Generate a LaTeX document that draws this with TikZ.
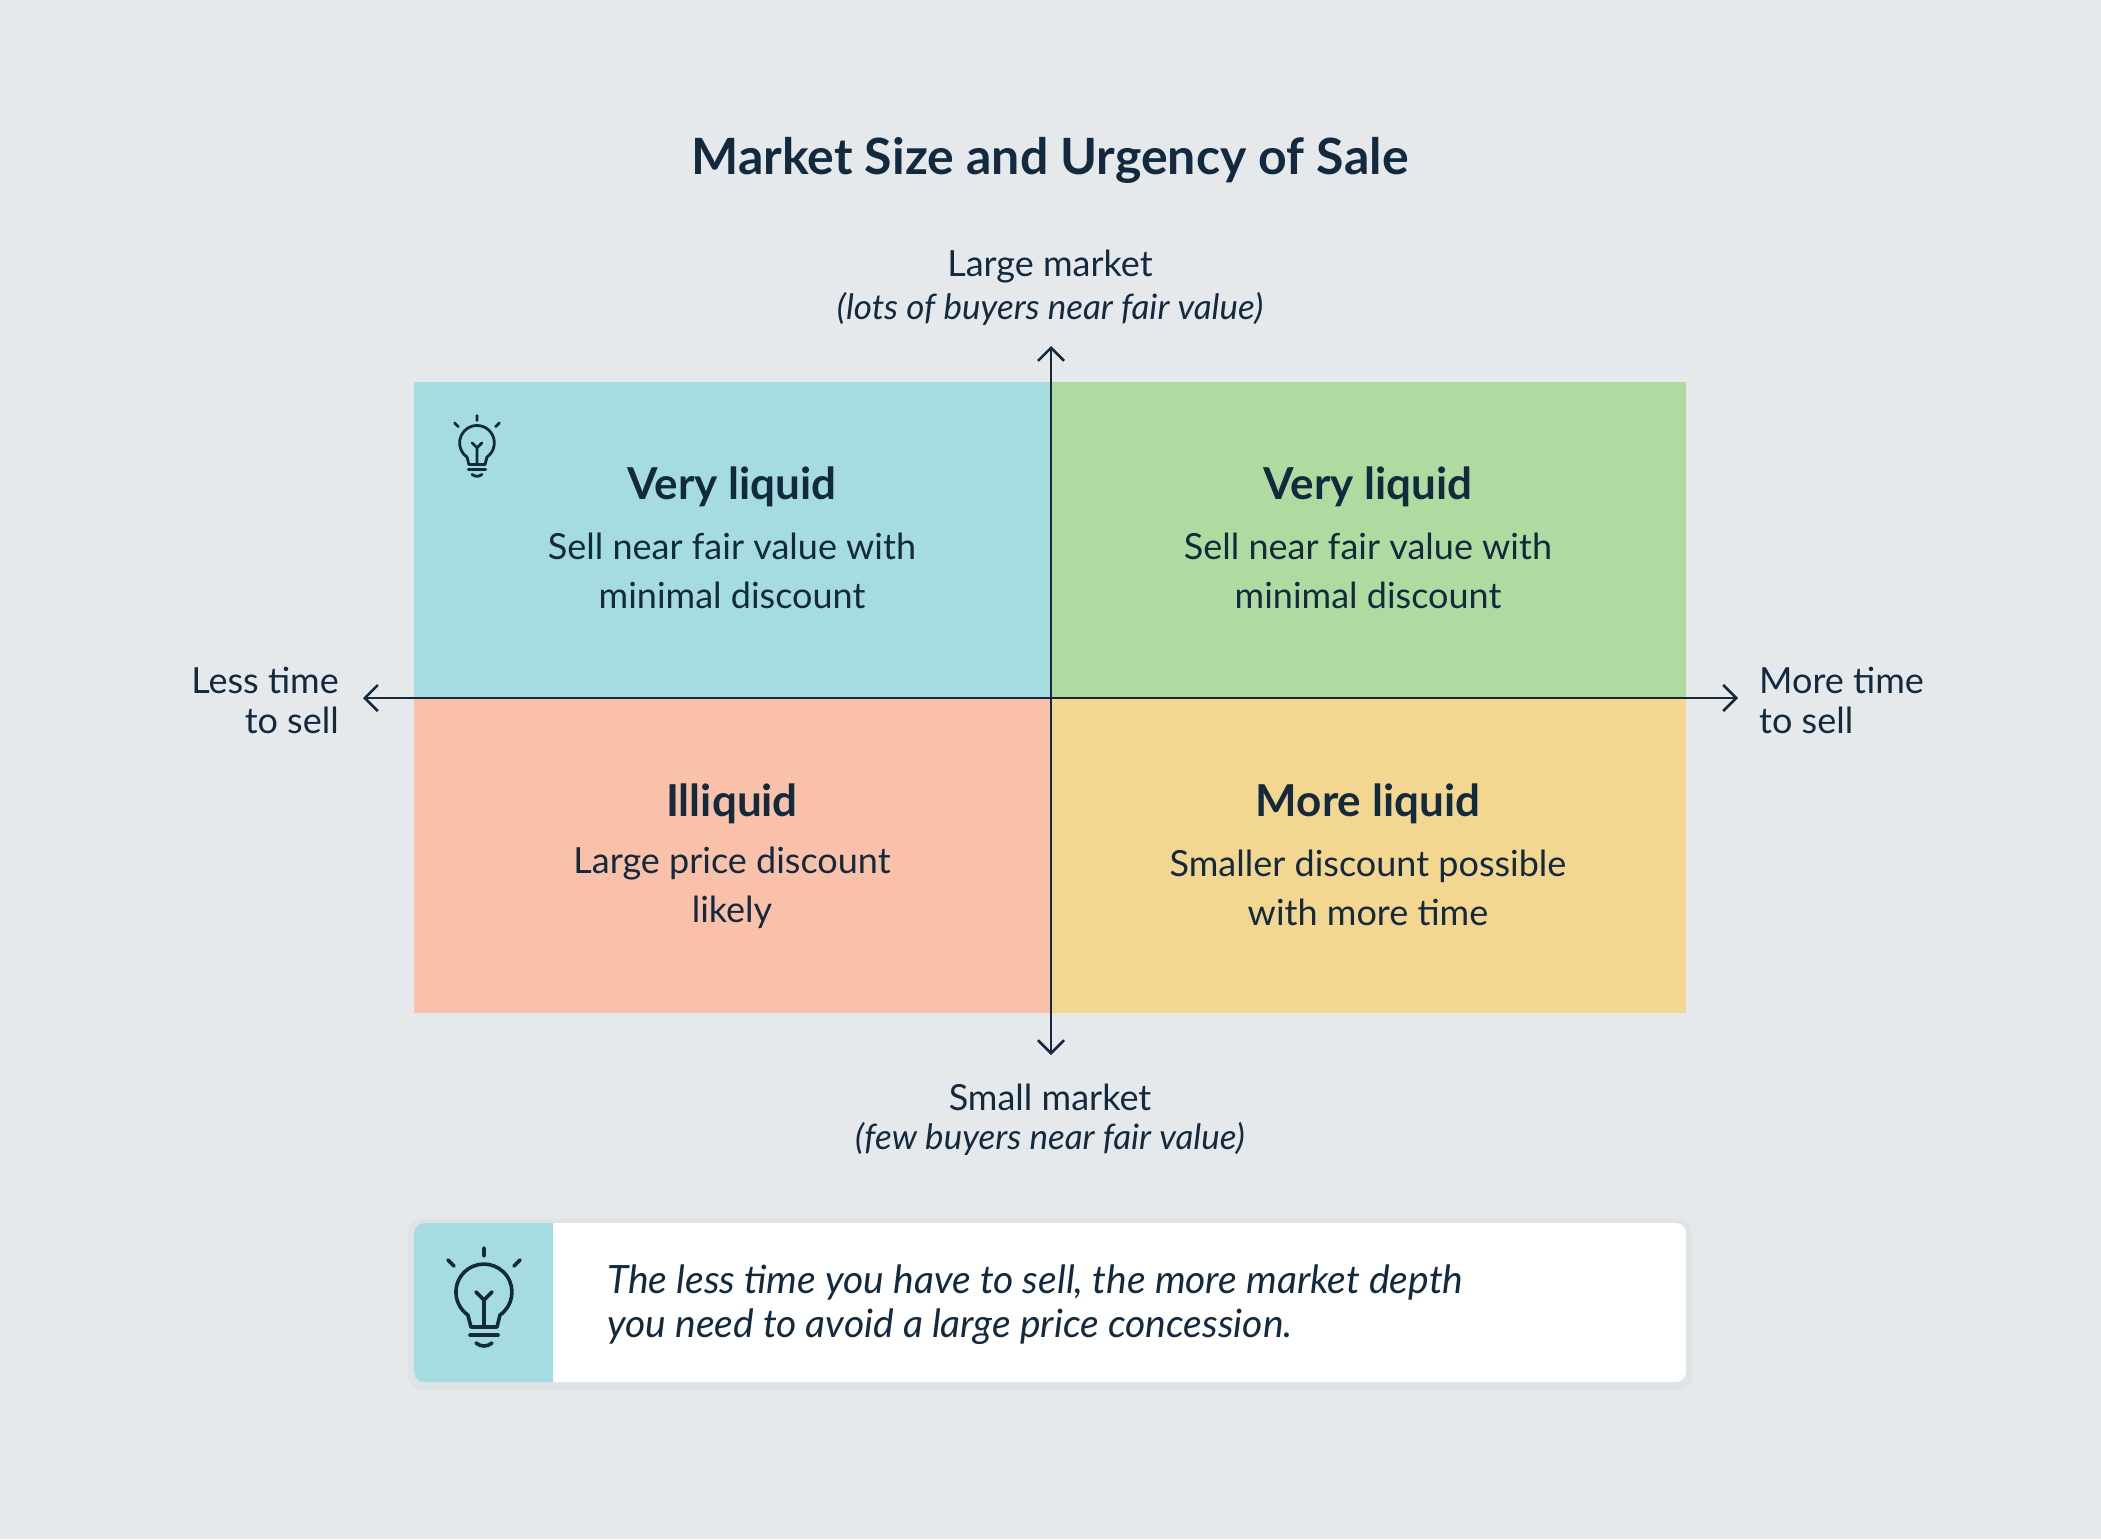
\documentclass[tikz,border=0pt]{standalone}
\usepackage{fontspec}
\setmainfont{Lato}
\usetikzlibrary{arrows.meta}
\definecolor{bg}{HTML}{E6E9EC}
\definecolor{teal}{HTML}{A4DCE0}
\definecolor{grn}{HTML}{B0DBA0}
\definecolor{sal}{HTML}{F9C1AA}
\definecolor{yel}{HTML}{F3D690}
\definecolor{ink}{HTML}{132A3E}
\tikzset{
  fs/.style={font=\fontsize{#1}{\dimexpr#1pt*135/100\relax}\selectfont},
  lbl/.style={text=ink, inner sep=0pt, align=center},
  arr/.style={draw=ink, line width=2.6pt, -{Straight Barb[length=13pt,width=26pt,line width=2.6pt]}},
  bulb/.pic={
    \begin{scope}[yscale=-1, draw=ink, line cap=round, line join=round]
      \draw (13,-25) -- (16,-13) arc[start angle=-55, end angle=235, radius=28] -- (-13,-25) -- cycle;
      \draw (0,-25) -- (0,2) (-8,10) -- (0,2) -- (8,10);
      \draw (-14,-33) -- (14,-33);
      \draw (-8,-41) .. controls (-3,-45) and (3,-45) .. (8,-41);
      \draw (0,46) -- (0,54) (-30,36) -- (-36,42) (30,36) -- (36,42);
    \end{scope}
  }
}
\begin{document}
\begin{tikzpicture}[x=1pt,y=-1pt]
\fill[bg] (0,0) rectangle (2101,1539);
\useasboundingbox (0,0) rectangle (2101,1539);
\fill[teal] (414,382) rectangle (1051,698);
\fill[grn] (1051,382) rectangle (1686,698);
\fill[sal] (414,698) rectangle (1051,1013);
\fill[yel] (1051,698) rectangle (1686,1013);
\node[lbl, font=\bfseries\fontsize{50}{60}\selectfont] (title) at (1050,160) {Market Size and Urgency of Sale};
\coordinate (c) at (1051,698);
\coordinate (top) at (1051,346);
\coordinate (bot) at (1051,1055);
\coordinate (lft) at (363,698);
\coordinate (rgt) at (1738,698);
\draw[arr] (c) -- (top);
\draw[arr] (c) -- (bot);
\draw[arr] (c) -- (lft);
\draw[arr] (c) -- (rgt);
\node[lbl, fs=36] (lm) at (1050,267) {Large market};
\node[lbl, fs=35] (lmi) at (1050,309) {\itshape (lots of buyers near fair value)};
\node[lbl, fs=36] (sm) at (1050,1097) {Small market};
\node[lbl, fs=35] (smi) at (1050,1139) {\itshape (few buyers near fair value)};
\node[lbl, font=\fontsize{36}{40}\selectfont, align=right, anchor=east] (lt) at (339,700) {Less time\\to sell};
\node[lbl, font=\fontsize{36}{40}\selectfont, align=left, anchor=west] (mt) at (1759,700) {More time\\to sell};
\node[lbl, font=\bfseries\fontsize{44}{53}\selectfont] (h1) at (732,487) {Very liquid};
\node[lbl, fs=36] (b1) at (732,571) {Sell near fair value with\\minimal discount};
\node[lbl, font=\bfseries\fontsize{44}{53}\selectfont] (h2) at (1368,487) {Very liquid};
\node[lbl, fs=36] (b2) at (1368,571) {Sell near fair value with\\minimal discount};
\node[lbl, font=\bfseries\fontsize{44}{53}\selectfont] (h3) at (732,804) {Illiquid};
\node[lbl, fs=36] (b3) at (732,888) {Large price discount\\likely};
\node[lbl, font=\bfseries\fontsize{44}{53}\selectfont] (h4) at (1368,804) {More liquid};
\node[lbl, fs=36] (b4) at (1368,888) {Smaller discount possible\\with more time};
\pic[line width=2.8pt, scale=0.62] at (477,449) {bulb};
% bottom box
\fill[black, opacity=0.025, rounded corners=14pt] (408,1219) rectangle (1692,1390);
\fill[white, rounded corners=10pt] (414,1223) rectangle (1686,1382);
\begin{scope}
\clip (414,1223) rectangle (553,1382);
\fill[teal, rounded corners=10pt] (414,1223) rectangle (600,1382);
\end{scope}
\pic[line width=3.6pt] at (484,1302) {bulb};
\node[lbl, font=\fontsize{39}{44}\selectfont, align=left, anchor=west] (tip) at (607,1305) {\itshape The less time you have to sell, the more market depth\\\itshape you need to avoid a large price concession.};
\end{tikzpicture}
\end{document}
